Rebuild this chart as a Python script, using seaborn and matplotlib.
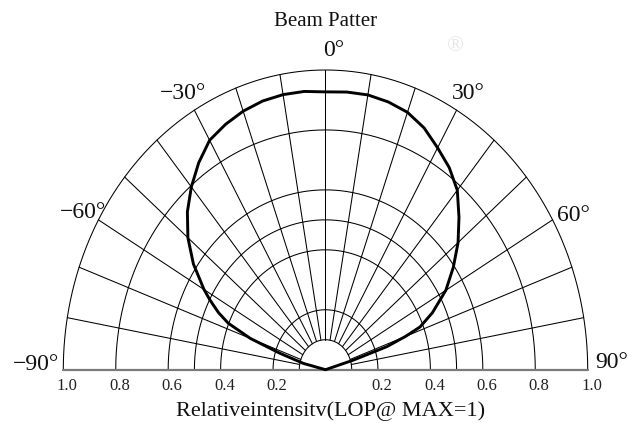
import numpy as np
import pandas as pd
import matplotlib
matplotlib.use("Agg")
import matplotlib.pyplot as plt
import matplotlib.transforms as mtransforms
import seaborn as sns

# Beam pattern: emission angle (deg, 0 = on-axis) and relative intensity
angle_deg = [-90, -76, -72.5, -70, -67.3, -65, -62.2, -60, -55, -50, -45, -40,
             -35, -30, -25, -20, -15, -10, -5, 0, 5, 10, 15, 20, 25, 30, 35,
             40, 45, 50, 55, 60, 65, 68.4, 70, 71.8, 73.2, 90]
intensity = [0.0, 0.087, 0.182, 0.305, 0.402, 0.45, 0.498, 0.535, 0.615, 0.685,
             0.745, 0.796, 0.843, 0.884, 0.903, 0.918, 0.928, 0.932, 0.932,
             0.927, 0.93, 0.931, 0.925, 0.914, 0.89, 0.855, 0.823, 0.782,
             0.72, 0.66, 0.595, 0.53, 0.45, 0.388, 0.325, 0.246, 0.111, 0.0]

# Grid definition
ring_values = [0.1, 0.2, 0.4, 0.5, 0.6, 0.8, 1.0]
spoke_angles = list(range(-80, 90, 10))
tick_values = [0.2, 0.4, 0.6, 0.8, 1.0]
angle_labels = ["\u221290\u00b0", "\u221260\u00b0", "\u221230\u00b0", "0\u00b0",
                "30\u00b0", "60\u00b0", "90\u00b0"]

sns.set_theme(style="white")
plt.rcParams["font.family"] = ["Liberation Serif", "DejaVu Serif"]

W, H = 637, 423
fig = plt.figure(figsize=(W / 100, H / 100), dpi=100)
fig.patch.set_facecolor("white")

# half-plane axes: x in [-1, 1], y in [0, 1]
cx, cy, rx, ry = 325.5, 369.7, 262.2, 299.7
ax = fig.add_axes([(cx - rx) / W, (H - cy) / H, 2 * rx / W, ry / H])

def px(x, y):
    return x / W, 1 - y / H

# rings
theta = np.radians(np.linspace(-90, 90, 361))
for r in ring_values:
    ax.plot(r * np.sin(theta), r * np.cos(theta), color="black", lw=0.75,
            zorder=2, clip_on=False)

# spokes
for a in spoke_angles:
    t = np.radians(a)
    ax.plot([0.1 * np.sin(t), np.sin(t)], [0.1 * np.cos(t), np.cos(t)],
            color="black", lw=0.75, zorder=2, clip_on=False)

# baseline
ax.plot([-1, 1], [0, 0], color="#7a7a7a", lw=1.6, zorder=3, clip_on=False)

# beam curve
t = np.radians(np.array(angle_deg))
df = pd.DataFrame({
    "x": np.array(intensity) * np.sin(t),
    "y": np.array(intensity) * np.cos(t),
})
sns.lineplot(data=df, x="x", y="y", sort=False, estimator=None, ax=ax,
             color="black", lw=2.1, zorder=4, clip_on=False)
ax.set_xlim(-1, 1)
ax.set_ylim(0, 1)
ax.axis("off")

# faint registered mark
fig.text(*px(455, 47), "\u00ae", fontsize=16, color="#e6e6e6",
         ha="center", va="center", zorder=0)

# radial tick labels under the baseline
off = mtransforms.offset_copy(ax.transData, fig=fig, x=4, y=-20, units="dots")
for v in tick_values:
    for s in (-1, 1):
        ax.text(s * v, 0, f"{v:.1f}", transform=off, ha="center",
                va="baseline", fontsize=12, color="#222222")

# angle labels
label_pos = [(36, 370), (83, 218), (183, 99), (334, 56.5),
             (468, 99), (573, 221), (612, 368)]
for txt, (x, y) in zip(angle_labels, label_pos):
    fig.text(*px(x, y), txt, ha="center", va="baseline", fontsize=17,
             color="#111111")

fig.text(*px(326, 26.5), "Beam Patter", ha="center", va="baseline",
         fontsize=15, color="#111111")
fig.text(*px(331, 416), "Relativeintensitv(LOP@ MAX=1)", ha="center",
         va="baseline", fontsize=16, color="#111111")

fig.savefig("out.png", dpi=100, facecolor="white")
